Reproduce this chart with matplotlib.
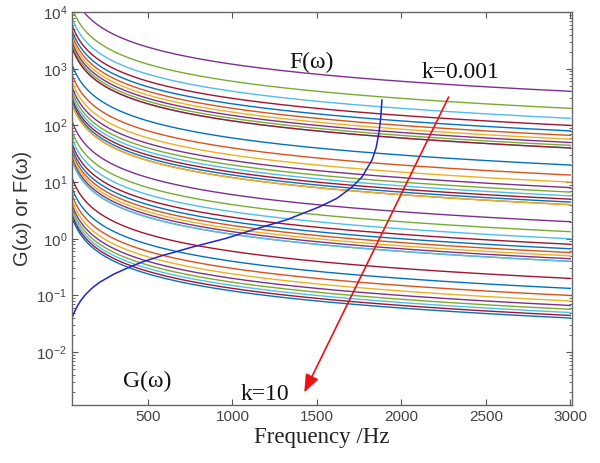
import numpy as np
import matplotlib
matplotlib.use("Agg")
import matplotlib.pyplot as plt
from matplotlib.ticker import LogLocator, NullFormatter, FixedLocator

plt.rcParams['font.family'] = ['Liberation Sans', 'DejaVu Sans']
plt.rcParams['mathtext.fontset'] = 'custom'
plt.rcParams['mathtext.rm'] = 'Liberation Sans'
plt.rcParams['mathtext.it'] = 'Liberation Sans:italic'
plt.rcParams['mathtext.bf'] = 'Liberation Sans:bold'

# ---------------- data ----------------
# k values of the F(w) family (each decade 1..10, as plotted)
k_values = [0.001, 0.002, 0.003, 0.004, 0.005, 0.006, 0.007, 0.008, 0.009, 0.01,
            0.01, 0.02, 0.03, 0.04, 0.05, 0.06, 0.07, 0.08, 0.09, 0.1,
            0.1, 0.2, 0.3, 0.4, 0.5, 0.6, 0.7, 0.8, 0.9, 1.0,
            1.0, 2.0, 3.0, 4.0, 5.0, 6.0, 7.0, 8.0, 9.0, 10.0]
F_ref_value = 400.0      # F of the k=0.001 curve at 3000 Hz
F_ref_k = 0.001
F_ref_freq = 3000.0
freq_min, freq_max = 50.0, 3000.0

# G(w) curve
G_freq = [50, 62, 78, 100, 130, 170, 215, 300, 373, 460, 569, 766, 963, 1118,
          1318, 1513, 1620, 1708, 1767, 1826, 1850, 1867, 1878, 1885]
G_vals = [0.040, 0.0496, 0.062, 0.080, 0.104, 0.136, 0.172, 0.24, 0.30, 0.385,
          0.49, 0.72, 1.02, 1.43, 2.15, 3.64, 5.2, 8.2, 12.3, 24.5, 40, 73, 140, 281]

x_ticks = [500, 1000, 1500, 2000, 2500, 3000]
y_ticks = [1e-2, 1e-1, 1e0, 1e1, 1e2, 1e3, 1e4]

matlab_colors = ['#0072BD', '#D95319', '#EDB120', '#7E2F8E',
                 '#77AC30', '#4DBEEE', '#A2142F']

# ---------------- figure ----------------
fig = plt.figure(figsize=(6.0, 4.63), dpi=100)
ax = fig.add_axes([0.12, 0.1253, 0.8333, 0.8487])

f = np.linspace(freq_min, freq_max, 800)
for j, k in enumerate(k_values):
    F = F_ref_value * (F_ref_k / k) * (F_ref_freq / f)
    ax.plot(f, F, color=matlab_colors[(3 + j) % 7], lw=1.0)

ax.plot(G_freq, G_vals, color='#2222cc', lw=1.1)

ax.set_yscale('log')
ax.set_xlim(freq_min, 3010)
ax.set_ylim(1.17e-3, 1e4)

ax.xaxis.set_major_locator(FixedLocator(x_ticks))
ax.yaxis.set_major_locator(FixedLocator(y_ticks))
ax.yaxis.set_minor_locator(LogLocator(base=10, subs=np.arange(2, 10), numticks=20))
ax.yaxis.set_minor_formatter(NullFormatter())

tick_col = '#444444'
ax.tick_params(which='both', direction='in', top=True, right=True,
               colors='#555555', labelcolor=tick_col, labelsize=11)
ax.tick_params(which='major', length=4)
ax.tick_params(which='minor', length=2)
for s in ax.spines.values():
    s.set_color('#666666')
    s.set_linewidth(1.0)

ax.set_xlabel('Frequency /Hz', family='Liberation Serif', fontsize=16.5,
              color='#222222', labelpad=2)
ax.set_ylabel('G(ω) or F(ω)', family=['Liberation Sans', 'DejaVu Sans'],
              fontsize=14.5, color='#333333', labelpad=3)

serif = dict(family='Liberation Serif', fontsize=17, color='#111111',
             ha='center', va='center')
ax.text(1466, 1312, 'F(ω)', **serif)
ax.text(2351, 875, 'k=0.001', **serif)
ax.text(498, 3.0e-3, 'G(ω)', **serif)
ax.text(1195, 1.8e-3, 'k=10', **serif)

ax.annotate('', xy=(1425, 1.95e-3), xytext=(2280, 317),
            arrowprops=dict(arrowstyle='-|>,head_length=0.9,head_width=0.35',
                            color='#ee1111', lw=1.2, mutation_scale=12,
                            shrinkA=0, shrinkB=0))

fig.savefig('out.png', dpi=100)
